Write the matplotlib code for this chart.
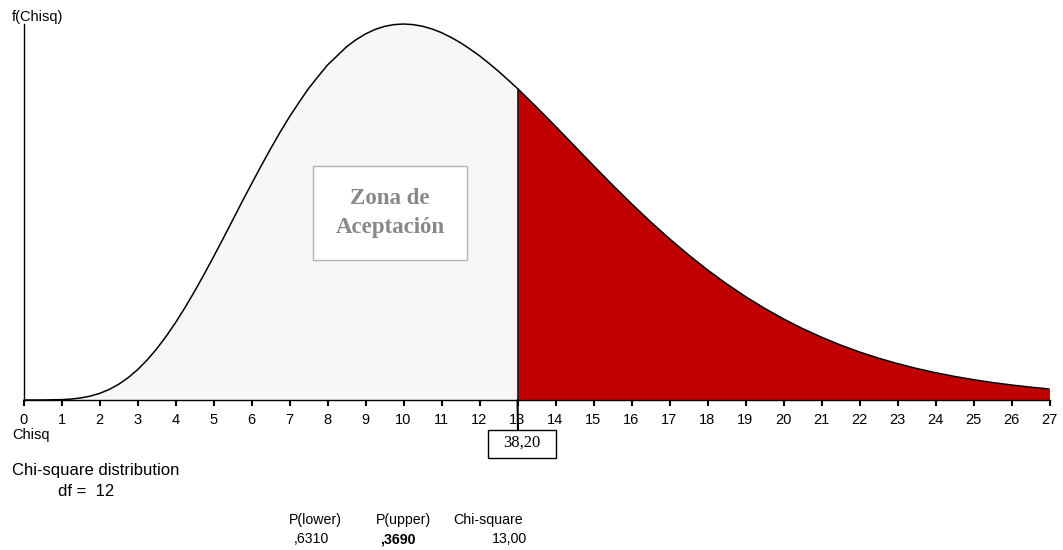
import matplotlib
matplotlib.use("Agg")
import matplotlib.pyplot as plt
import numpy as np

# Values (density of chi-square, df = 12)
chisq = [0, 0.5, 1, 1.25, 1.5, 1.75, 2, 2.25, 2.5, 2.75, 3, 3.25, 3.5, 3.75, 4, 4.25,
         4.5, 4.75, 5, 5.25, 5.5, 5.75, 6, 6.25, 6.5, 6.75, 7, 7.25, 7.5, 7.75, 8, 8.25,
         8.5, 8.75, 9, 9.25, 9.5, 9.75, 10, 10.25, 10.5, 10.75, 11, 11.25, 11.5, 11.75,
         12, 12.25, 12.5, 12.75, 13, 13.5, 14, 14.5, 15, 15.5, 16, 16.5, 17, 17.5,
         18, 18.5, 19, 19.5, 20, 20.5, 21, 21.5, 22, 22.5, 23, 23.5, 24, 24.5, 25, 25.5,
         26, 26.5, 27]
density = [0.0, 0.000003, 0.000079, 0.000213, 0.00047, 0.000891, 0.00153, 0.002438,
           0.00364, 0.005177, 0.00706, 0.009296, 0.01188, 0.01481, 0.01804, 0.02157,
           0.02532, 0.02928, 0.0334, 0.03762, 0.04189, 0.04623, 0.05041, 0.05456,
           0.05858, 0.06244, 0.06609, 0.06944, 0.07267, 0.07545, 0.07816, 0.08027,
           0.08241, 0.08406, 0.08542, 0.08645, 0.08717, 0.08759, 0.08773, 0.08759,
           0.08721, 0.08657, 0.08571, 0.08461, 0.08336, 0.08189, 0.08032, 0.07855,
           0.0767, 0.0747, 0.07268,
           0.06836, 0.06387, 0.05927, 0.05468, 0.05017, 0.0458, 0.0416, 0.03762, 0.03387,
           0.03036, 0.02712, 0.02413, 0.0214, 0.01892, 0.01667, 0.01465, 0.01283, 0.01121,
           0.00976, 0.00849, 0.00736, 0.00637, 0.0055, 0.00474, 0.00407, 0.0035, 0.003, 0.00256]
tick_values = list(range(0, 28))
critical = 13
critical_label = "38,20"
p_lower = ",6310"
p_upper = ",3690"
chi_value = "13,00"
df_value = 12

plt.rcParams['font.family'] = ['Liberation Sans', 'DejaVu Sans']

W, H = 1063, 550
fig = plt.figure(figsize=(W / 100, H / 100), dpi=100)

def fx(px):
    return px / W

def fy(py):
    return 1 - py / H

ax = fig.add_axes([fx(23.5), fy(400), fx(1049.5) - fx(23.5), fy(24) - fy(400)])
x = np.array(chisq)
y = np.array(density)
ax.set_xlim(0, 27)
ax.set_ylim(0, 0.08773)

lo = x <= critical
hi = x >= critical
ax.fill_between(x[lo], 0, y[lo], color='#f7f7f7', lw=0)
ax.fill_between(x[hi], 0, y[hi], color='#c00000', lw=0)
ax.plot(x, y, color='black', lw=1.1, solid_capstyle='butt', solid_joinstyle='round',
        clip_on=False)

crit_y = y[list(chisq).index(critical)]
ax.plot([critical, critical], [crit_y, 0], color='#202020', lw=1.3, clip_on=False)
# extension of the critical line below the axis to the box
ax.annotate('', xy=(critical, 0), xycoords='data',
            xytext=(fx(518), fy(430)), textcoords='figure fraction',
            arrowprops=dict(arrowstyle='-', color='black', lw=1.5, shrinkA=0, shrinkB=0))

for s in ['top', 'right']:
    ax.spines[s].set_visible(False)
ax.spines['left'].set_linewidth(1.0)
ax.spines['bottom'].set_linewidth(1.0)
ax.set_yticks([])
ax.set_xticks(tick_values)
ax.set_xticklabels([str(t) for t in tick_values])
ax.tick_params(axis='x', direction='out', length=4, width=1.5, pad=5, labelsize=10.5)

# Zona de Aceptación box
fig.patches.append(matplotlib.patches.Rectangle((fx(313), fy(260)), fx(467) - fx(313), fy(166) - fy(260),
                   transform=fig.transFigure, facecolor='white', edgecolor='#b4b4b4', lw=1.0))
fig.text(fx(390), fy(199), "Zona de", ha='center', va='center', fontsize=16.5,
         family='Liberation Serif', fontweight='bold', color='#888888')
fig.text(fx(390), fy(227), "Aceptación", ha='center', va='center', fontsize=16.5,
         family='Liberation Serif', fontweight='bold', color='#888888')

# critical value box
fig.patches.append(matplotlib.patches.Rectangle((fx(488), fy(458)), fx(556) - fx(488), fy(430) - fy(458),
                   transform=fig.transFigure, facecolor='white', edgecolor='black', lw=1.0))
fig.text(fx(522), fy(443), critical_label, ha='center', va='center', fontsize=12,
         family='Liberation Serif')

fig.text(fx(12), fy(17), "f(Chisq)", ha='left', va='center', fontsize=10.5)
fig.text(fx(12), fy(435), "Chisq", ha='left', va='center', fontsize=10.5)
fig.text(fx(12), fy(470), "Chi-square distribution", ha='left', va='center', fontsize=12)
fig.text(fx(58), fy(492), f"df =  {df_value}", ha='left', va='center', fontsize=12)

fig.text(fx(315), fy(520), "P(lower)", ha='center', va='center', fontsize=10.2)
fig.text(fx(403), fy(520), "P(upper)", ha='center', va='center', fontsize=10.2)
fig.text(fx(488), fy(520), "Chi-square", ha='center', va='center', fontsize=10.2)
fig.text(fx(294), fy(539), p_lower, ha='left', va='center', fontsize=10.2)
fig.text(fx(380), fy(539), p_upper, ha='left', va='center', fontsize=10.2, fontweight='bold')
fig.text(fx(527), fy(539), chi_value, ha='right', va='center', fontsize=10.2)

fig.savefig("out.png", dpi=100)
